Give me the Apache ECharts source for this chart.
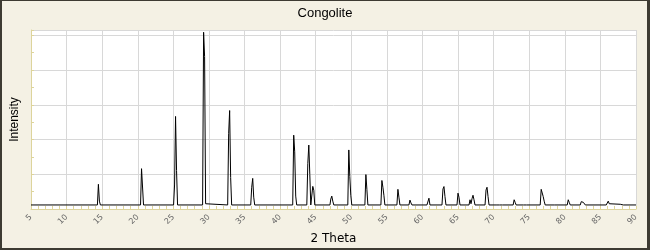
<!DOCTYPE html>
<html>
<head>
<meta charset="utf-8">
<script src="https://cdn.jsdelivr.net/npm/echarts@6/dist/echarts.min.js"></script>
<style>
  html, body { margin: 0; padding: 0; background: #f4f1e4; }
  #wrap { position: relative; width: 650px; height: 250px; }
  #chart { position: absolute; left: 0; top: 0; width: 650px; height: 250px; }
  #frame { position: absolute; left: 0; top: 0; width: 650px; height: 250px; box-sizing: border-box;
           border-style: solid; border-color: #3d3b32; border-width: 1px 3px 2px 2px; pointer-events: none; }
</style>
</head>
<body>
<div id="wrap"><div id="chart"></div><div id="frame"></div></div>
<script>
const titleText = 'Congolite';
const xAxisName = '2 Theta';
const yAxisName = 'Intensity';
const xTicks = [5, 10, 15, 20, 25, 30, 35, 40, 45, 50, 55, 60, 65, 70, 75, 80, 85, 90];

const twoTheta = [
  5.00, 14.33, 14.47, 14.61, 14.75,
  20.39, 20.53, 20.67, 20.81,
  25.03, 25.17, 25.31, 25.45, 25.59,
  29.11, 29.25, 29.39, 29.53, 29.67,
  32.63, 32.77, 32.91, 33.05, 33.19,
  35.87, 36.01, 36.15, 36.29, 36.43,
  41.77, 41.91, 42.05, 42.19, 42.33,
  43.75, 43.89, 44.03, 44.17, 44.31, 44.45, 44.59, 44.73, 44.87,
  47.00, 47.12, 47.26, 47.40, 47.54,
  49.51, 49.65, 49.79, 49.93, 50.07,
  51.91, 52.05, 52.19, 52.33,
  54.16, 54.30, 54.44, 54.58, 54.72,
  56.41, 56.55, 56.69, 56.83,
  58.10, 58.24, 58.38, 58.52,
  60.63, 60.77, 60.91, 61.05,
  62.74, 62.88, 63.02, 63.16, 63.30,
  64.85, 64.99, 65.13, 65.27,
  66.54, 66.68, 66.82, 66.96, 67.10, 67.24, 67.38,
  68.79, 68.93, 69.07, 69.21, 69.35,
  70.34, 70.48, 70.62, 70.81, 70.95, 71.09, 71.23,
  72.74, 72.88, 73.02, 73.16,
  74.19, 74.33, 74.47, 74.61,
  76.54, 76.68, 76.82, 76.96, 77.10, 77.24,
  78.51, 78.65, 78.79,
  80.34, 80.48, 80.62, 80.76,
  82.17, 82.31, 82.45, 82.60, 82.74, 82.88,
  85.82, 85.96, 86.10, 86.24, 86.38,
  87.79, 87.93, 88.07, 88.21,
  90.00
];
const intensity = [
  2.3, 2.3, 14.2, 4.5, 2.3,
  2.3, 23.2, 22.3, 2.3,
  2.3, 13.8, 53.3, 22.1, 2.3,
  2.3, 101.8, 87.8, 3.0, 2.3,
  2.3, 43.6, 56.7, 18.1, 2.3,
  2.3, 12.5, 17.6, 6.8, 2.3,
  2.3, 42.5, 32.9, 7.4, 2.3,
  2.3, 26.1, 36.8, 19.8, 2.3, 2.3, 13.0, 10.8, 2.3,
  2.3, 5.7, 7.4, 4.5, 2.3,
  2.3, 34.0, 18.7, 7.9, 2.3,
  2.3, 19.8, 11.3, 2.3,
  2.3, 16.4, 12.5, 7.9, 2.3,
  2.3, 11.3, 6.8, 2.3,
  2.3, 5.1, 3.5, 2.3,
  2.3, 3.4, 6.2, 2.3,
  2.3, 11.5, 12.9, 7.2, 2.3,
  2.3, 9.1, 6.8, 2.3,
  2.3, 5.3, 3.0, 5.9, 7.9, 5.3, 2.3,
  2.3, 10.9, 12.5, 7.2, 2.3,
  2.3, 3.0, 2.3, 2.3, 3.4, 3.0, 2.3,
  2.3, 5.3, 3.8, 2.3,
  2.3, 3.4, 3.0, 2.3,
  2.3, 11.3, 10.4, 7.2, 4.5, 2.3,
  2.3, 3.0, 2.3,
  2.3, 5.3, 3.8, 2.3,
  2.3, 4.2, 3.4, 3.8, 2.7, 2.3,
  2.3, 3.4, 4.5, 3.0, 2.3,
  2.7, 3.6, 2.7, 2.3,
  2.3
];

const seriesData = twoTheta.map((x, i) => [x, intensity[i]]);
const axisYellow = '#ddd49c';

const chart = echarts.init(document.getElementById('chart'), null, { renderer: 'canvas' });
chart.setOption({
  animation: false,
  backgroundColor: '#f4f1e4',
  title: {
    text: titleText, left: 'center', top: 2,
    textStyle: { fontSize: 13, fontWeight: 'normal', color: '#000', fontFamily: 'Liberation Sans' }
  },
  grid: { left: 31, right: 14, top: 30, bottom: 38, show: true, backgroundColor: '#ffffff', borderWidth: 0 },
  xAxis: {
    type: 'value', min: xTicks[0], max: xTicks[xTicks.length - 1], interval: 5,
    name: xAxisName, nameLocation: 'middle', nameGap: 20,
    nameTextStyle: { fontSize: 12, color: '#000', fontFamily: 'DejaVu Sans' },
    axisLine: { show: true, lineStyle: { color: axisYellow, width: 1 } },
    axisTick: { show: true, inside: true, length: 3, lineStyle: { color: axisYellow } },
    minorTick: { show: true, splitNumber: 5, length: 3, lineStyle: { color: axisYellow } },
    axisLabel: { rotate: 45, fontSize: 8, color: '#666', margin: 7, fontFamily: 'DejaVu Sans',
                 showMinLabel: true, showMaxLabel: true },
    splitLine: { show: true, lineStyle: { color: '#d8d8d8', width: 1 } }
  },
  yAxis: {
    type: 'value', min: 0, max: 103.1, interval: 20,
    name: yAxisName, nameLocation: 'middle', nameGap: 10, nameRotate: 90,
    nameTextStyle: { fontSize: 12, color: '#000', fontFamily: 'Liberation Sans' },
    axisLine: { show: true, lineStyle: { color: axisYellow, width: 1 } },
    axisTick: { show: true, inside: true, length: 3, lineStyle: { color: axisYellow } },
    minorTick: { show: true, splitNumber: 2, length: 3, lineStyle: { color: axisYellow } },
    axisLabel: { show: false },
    splitLine: { show: true, lineStyle: { color: '#d8d8d8', width: 1 } }
  },
  series: [{
    type: 'line', data: seriesData, showSymbol: false, symbol: 'none',
    lineStyle: { color: '#000', width: 1 }, itemStyle: { color: '#000' }
  }]
});
</script>
</body>
</html>
